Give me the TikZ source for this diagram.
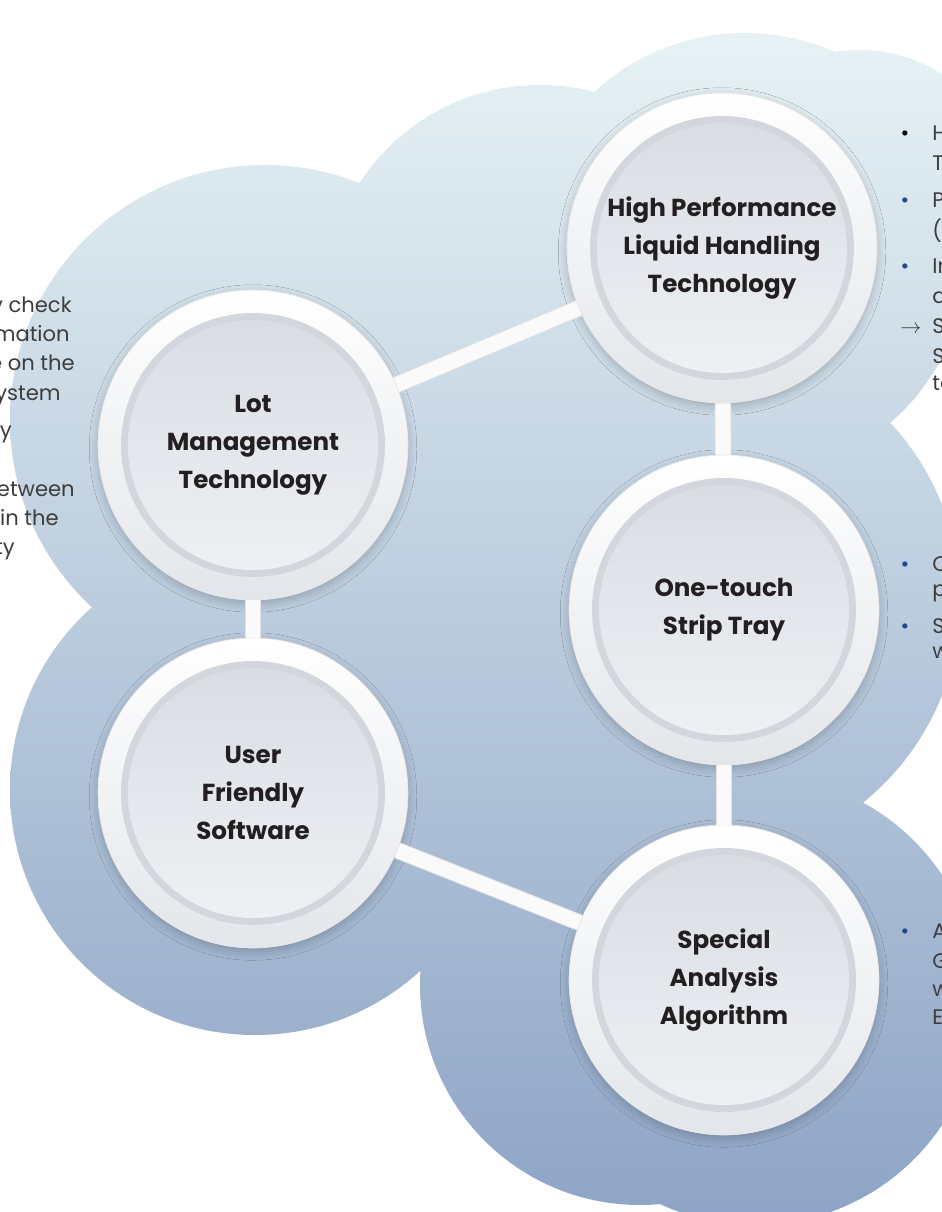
\documentclass[tikz,border=0pt]{standalone}
\usepackage{fontspec}
\setmainfont{Poppins}
\usetikzlibrary{shadows.blur}
\definecolor{cloudtop}{HTML}{E6F2F4}
\definecolor{cloudmid}{HTML}{BBCCE0}
\definecolor{cloudbot}{HTML}{8EA4C6}
\definecolor{ringbot}{HTML}{E3E6EA}
\definecolor{groove}{HTML}{D3D7DD}
\definecolor{facetop}{HTML}{D9DDE3}
\definecolor{facebot}{HTML}{EEF0F3}
\definecolor{bodygray}{HTML}{3D3D3D}
\definecolor{dotblue}{HTML}{1F4A8A}
\definecolor{labelblack}{HTML}{231F20}
\begin{document}
\begin{tikzpicture}[x=0.02cm,y=0.02cm,line join=round,
		disc/.style={circle,minimum size=6.2cm,inner sep=0pt,align=center,
			top color=white,bottom color=ringbot,draw=gray!18,line width=.4pt,
			blur shadow={shadow xshift=0pt,shadow yshift=-2pt,shadow blur radius=5pt,shadow opacity=22},
			font=\fontsize{14}{21.5}\selectfont\bfseries,text=labelblack,
			path picture={
				\fill[groove] (path picture bounding box.center) circle (2.64cm);
				\shade[top color=facetop,bottom color=facebot] (path picture bounding box.center) circle (2.5cm);
			}},
		bar/.style={line cap=butt,line width=.5pt,draw=gray!22,double=white!96!gray,double distance=8.5pt},
		sidetext/.style={inner sep=0pt,font=\fontsize{12}{16}\selectfont,text=bodygray},
		dot/.style={inner sep=0pt,font=\fontsize{12}{16}\selectfont,text=dotblue}]
		\useasboundingbox (0,0) rectangle (941,-1212);
		\fill[white] (0,0) rectangle (941,-1212);
		\shade[top color=cloudtop,middle color=cloudmid,bottom color=cloudbot]
		(745,-255) circle (222) (860,-200) circle (150) (540,-300) circle (215)
		(265,-420) circle (255) (255,-790) circle (245) (700,-600) circle (260)
		(470,-700) circle (200) (755,-1000) circle (225) (640,-985) circle (220);
		\node[disc] (hplh) at (722,-248) {High Performance\\Liquid Handling\\Technology};
		\node[disc] (lot) at (253,-445) {Lot\\Management\\Technology};
		\node[disc] (tray) at (724,-610) {One-touch\\Strip Tray};
		\node[disc] (user) at (253,-793) {User\\Friendly\\Software};
		\node[disc] (algo) at (724,-980) {Special\\Analysis\\Algorithm};
		\draw[bar] (lot)--(hplh);
		\draw[bar] (hplh)--(tray);
		\draw[bar] (tray)--(algo);
		\draw[bar] (lot)--(user);
		\draw[bar] (user)--(algo);
		\node[sidetext,anchor=base east] (l1) at (72,-313) {y check};
		\node[sidetext,anchor=base east] (l2) at (70,-342) {mation};
		\node[sidetext,anchor=base east] (l3) at (75,-371) {e on the};
		\node[sidetext,anchor=base east] (l4) at (61,-401) {ystem};
		\node[sidetext,anchor=base east] (l5) at (12,-438) {y};
		\node[sidetext,anchor=base east] (l6) at (75,-496) {etween};
		\node[sidetext,anchor=base east] (l7) at (59,-525) {hin the};
		\node[sidetext,anchor=base east] (l8) at (15,-554) {ty};
		\node[sidetext,anchor=base,text=black] (d1) at (905,-141) {\textbullet};
		\node[sidetext,anchor=base west] (r1) at (932,-141) {H};
		\node[sidetext,anchor=base west] (r2) at (932,-171) {T};
		\node[dot,anchor=base] (d2) at (905,-208) {\textbullet};
		\node[sidetext,anchor=base west] (r3) at (932,-208) {P};
		\node[sidetext,anchor=base west] (r4) at (932,-239) {(v};
		\node[dot,anchor=base] (d3) at (905,-274) {\textbullet};
		\node[sidetext,anchor=base west] (r5) at (932,-274) {In};
		\node[sidetext,anchor=base west] (r6) at (932,-304) {d};
		\node[sidetext,anchor=base] (a1) at (911,-334) {$\rightarrow$};
		\node[sidetext,anchor=base west] (r7) at (932,-334) {S};
		\node[sidetext,anchor=base west] (r8) at (932,-364) {S};
		\node[sidetext,anchor=base west] (r9) at (932,-391) {te};
		\node[dot,anchor=base] (d4) at (905,-571) {\textbullet};
		\node[sidetext,anchor=base west] (r10) at (932,-571) {O};
		\node[sidetext,anchor=base west] (r11) at (932,-596) {p};
		\node[dot,anchor=base] (d5) at (905,-633) {\textbullet};
		\node[sidetext,anchor=base west] (r12) at (932,-633) {S};
		\node[sidetext,anchor=base west] (r13) at (932,-658) {w};
		\node[dot,anchor=base] (d6) at (905,-938) {\textbullet};
		\node[sidetext,anchor=base west] (r14) at (932,-938) {A};
		\node[sidetext,anchor=base west] (r15) at (932,-968) {G};
		\node[sidetext,anchor=base west] (r16) at (932,-996) {w};
		\node[sidetext,anchor=base west] (r17) at (932,-1024) {E};
\end{tikzpicture}
\end{document}
